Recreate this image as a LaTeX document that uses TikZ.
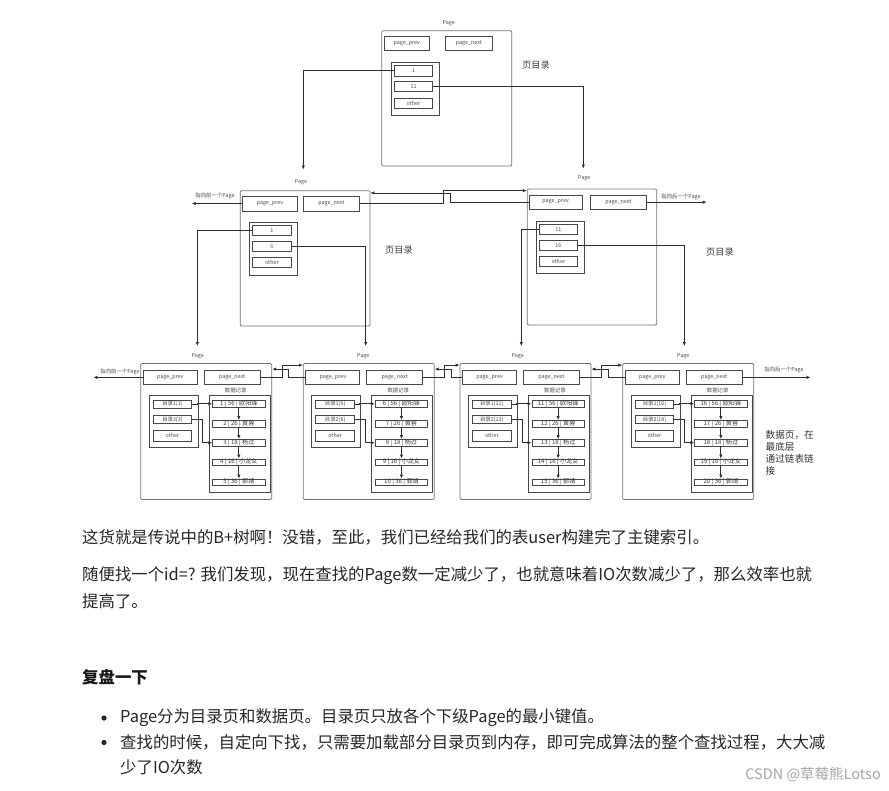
\documentclass[tikz,border=0pt]{standalone}
\usepackage{fontspec}
\setmainfont{Noto Sans CJK SC}
\usetikzlibrary{arrows.meta,calc}
\newcommand\mybox[7][]{\node[#1, minimum width={(#4)-(#2)}, minimum height={(#5)-(#3)}] (#6) at ({((#2)+(#4))/2},{((#3)+(#5))/2}) {#7};}
\newcommand\datapage[8]{%
  \mybox[pagebox]{#1}{363.5}{#1+131}{499.5}{#2-page}{}
  \node[lbl] (#2-lbl) at (#3,356) {Page};
  \mybox[cell]{#1+2.6}{370.3}{#1+56.6}{384.5}{#2-prev}{page\_prev}
  \mybox[cell]{#1+63.6}{370.3}{#1+119.3}{384.5}{#2-next}{page\_next}
  \mybox[grp]{#1+8.6}{395.2}{#1+57.6}{447.8}{#2-dir}{}
  \mybox[cell]{#1+12.6}{400.5}{#1+51}{408}{#2-d1}{目录1[#4]}
  \mybox[cell]{#1+12.6}{415.5}{#1+51}{423.5}{#2-d2}{目录2[#6]}
  \mybox[cell]{#1+12.6}{430.5}{#1+51}{441}{#2-d3}{other}
  \node[lbl] (#2-dl) at (#1+95,390.5) {数据记录};
  \mybox[grp]{#1+68.6}{395.2}{#1+129.3}{492.2}{#2-data}{}
  \mybox[rec]{#1+72}{400.5}{#1+124.3}{407}{#2-r1}{#4 | 56 | 欧阳锋}
  \mybox[rec]{#1+72}{420.5}{#1+124.3}{427}{#2-r2}{#5 | 26 | 黄蓉}
  \mybox[rec]{#1+72}{439.5}{#1+124.3}{446}{#2-r3}{#6 | 18 | 杨过}
  \mybox[rec]{#1+72}{459}{#1+124.3}{465.5}{#2-r4}{#7 | 16 | 小龙女}
  \mybox[rec]{#1+72}{479}{#1+124.3}{485.5}{#2-r5}{#8 | 36 | 郭靖}
  \draw[arr] (#2-d1.east) -- ++(5,0) |- (#2-r1.west);
  \draw[arr] (#2-d2.east) -- ++(10.5,0) |- (#2-r3.west);
  \draw[arr] (#2-r1.south) -- (#2-r2.north);
  \draw[arr] (#2-r2.south) -- (#2-r3.north);
  \draw[arr] (#2-r3.south) -- (#2-r4.north);
  \draw[arr] (#2-r4.south) -- (#2-r5.north);
}
\begin{document}
\begin{tikzpicture}[x=1pt,y=-1pt,
  pagebox/.style={draw=black!55, line width=0.8pt, rounded corners=1.2pt, inner sep=0pt},
  cell/.style={draw=black!72, line width=0.9pt, inner sep=0pt, font=\fontsize{5.4}{5.5}\selectfont, text=black!70},
  rec/.style={draw=black!72, line width=0.9pt, inner sep=0pt, text height=4.3pt, text depth=1pt, font=\fontsize{6.1}{6}\selectfont, text=black!78},
  grp/.style={draw=black!72, line width=0.9pt, inner sep=0pt},
  lbl/.style={inner sep=0.5pt, font=\fontsize{5.4}{5.5}\selectfont, text=black!70},
  big/.style={inner sep=0pt, font=\fontsize{9.2}{10}\selectfont, text=black!75},
  arr/.style={draw=black!82, line width=0.8pt, -{Latex[length=4pt,width=3.4pt]}},
  body/.style={inner sep=0pt, anchor=west, font=\fontsize{16.4}{18}\selectfont, text=black!85}]
\useasboundingbox (0,0) rectangle (889,790);
\fill[white] (0,0) rectangle (889,790);

% ---- top directory page
\mybox[pagebox]{381.7}{30.7}{511.7}{166}{t-page}{}
\node[lbl] (t-lbl) at (448.7,23.3) {Page};
\mybox[cell]{384.3}{36.7}{429.3}{50.7}{t-prev}{page\_prev}
\mybox[cell]{445}{36.7}{492.7}{50.7}{t-next}{page\_next}
\mybox[grp]{391}{62.7}{439}{115.3}{t-dir}{}
\mybox[cell]{394.3}{65}{432.7}{76}{t-d1}{1}
\mybox[cell]{394.3}{81.7}{432.7}{91.3}{t-d2}{11}
\mybox[cell]{394.3}{98}{432.7}{108.7}{t-d3}{other}
\node[big] (t-big) at (536,65) {页目录};

% ---- middle left directory page
\mybox[pagebox]{240.3}{190.7}{370}{326}{ml-page}{}
\node[lbl] (ml-lbl) at (301,181.7) {Page};
\mybox[cell]{242.7}{196}{297.3}{211}{ml-prev}{page\_prev}
\mybox[cell]{303.3}{196}{359.3}{211}{ml-next}{page\_next}
\mybox[grp]{249.3}{222.3}{297.3}{275.3}{ml-dir}{}
\mybox[cell]{252.7}{225}{291}{235.7}{ml-d1}{1}
\mybox[cell]{252.7}{241.3}{291}{251.3}{ml-d2}{6}
\mybox[cell]{252.7}{257.3}{291}{267.7}{ml-d3}{other}
\node[big] (ml-big) at (399,250) {页目录};
\node[lbl] (ml-side) at (215,196) {指向前一个Page};
\coordinate (ml-out) at (191.7,203.5);
\draw[arr] (ml-prev.west) -- (ml-out);

% ---- middle right directory page
\mybox[pagebox]{527.3}{189}{656.7}{325}{mr-page}{}
\node[lbl] (mr-lbl) at (584.3,178.3) {Page};
\mybox[cell]{529.3}{195}{582}{209.3}{mr-prev}{page\_prev}
\mybox[cell]{590}{195}{646.7}{209.3}{mr-next}{page\_next}
\mybox[grp]{536}{221.7}{584}{273.7}{mr-dir}{}
\mybox[cell]{539.3}{224.3}{577.3}{234.3}{mr-d1}{11}
\mybox[cell]{539.3}{240.7}{577.3}{250}{mr-d2}{16}
\mybox[cell]{539.3}{256.7}{577.3}{266.7}{mr-d3}{other}
\node[big] (mr-big) at (720,252) {页目录};
\node[lbl] (mr-side) at (681,196.5) {指向后一个Page};
\coordinate (mr-out) at (706.7,202.15);
\draw[arr] (mr-next.east) -- (mr-out);

% links between middle pages
\draw[arr] (ml-next.east) -- ($(ml-page.east |- ml-next.east)+(73.3,0)$) |- ($(mr-page.north west)+(0,2)$);
\draw[arr] (mr-prev.west) -- ($(ml-page.east |- mr-prev.west)+(79.5,0)$) |- ($(ml-page.north east)+(0,2.6)$);

% ---- bottom data pages
\datapage{140.7}{p1}{197.7}{1}{2}{3}{4}{5}
\datapage{303.3}{p2}{363.3}{6}{7}{8}{9}{10}
\datapage{460}{p3}{517.7}{11}{12}{13}{14}{15}
\datapage{622.7}{p4}{683.3}{16}{17}{18}{19}{20}

\node[lbl] (p1-side) at (120,372) {指向前一个Page};
\coordinate (p1-out) at (93.3,377.4);
\draw[arr] (p1-prev.west) -- (p1-out);
\node[lbl] (p4-side) at (784,369.5) {指向后一个Page};
\coordinate (p4-out) at (810.5,377.4);
\draw[arr] (p4-next.east) -- (p4-out);

\foreach \a/\b in {p1/p2,p2/p3,p3/p4}{
  \draw[arr] (\a-next.east) -- ($(\a-page.east |- \a-next.east)+(10,0)$) |- ($(\b-page.north west)+(0,2)$);
  \draw[arr] (\b-prev.west) -- ($(\a-page.east |- \b-prev.west)+(16.5,0)$) |- ($(\a-page.north east)+(0,6)$);
}

\node[inner sep=0pt, anchor=north west, align=left, font=\fontsize{9.6}{12.2}\selectfont, text=black!80] (p4-note) at (765.5,430) {数据页，在\\最底层\\通过链表链\\接};

% ---- tree connectors
\coordinate (ml-in) at (303.3,169.5);
\coordinate (mr-in) at (583.3,168.5);
\draw[arr] (t-d1.west) -| (ml-in);
\draw[arr] (t-d2.east) -| (mr-in);
\coordinate (p1-in) at (197.3,346);
\coordinate (p2-in) at (365.7,346);
\coordinate (p3-in) at (521.3,346);
\coordinate (p4-in) at (684.3,346);
\draw[arr] (ml-d1.west) -| (p1-in);
\draw[arr] (ml-d2.east) -| (p2-in);
\draw[arr] (mr-d1.west) -| (p3-in);
\draw[arr] (mr-d2.east) -| (p4-in);

% ---- text below
\node[body] (l1) at (82,537) {这货就是传说中的B+树啊！没错，至此，我们已经给我们的表user构建完了主键索引。};
\node[body] (l2) at (82,576) {随便找一个id=? 我们发现，现在查找的Page数一定减少了，也就意味着IO次数减少了，那么效率也就};
\node[body] (l3) at (82,601) {提高了。};
\node[body, font=\fontsize{16.4}{18}\selectfont\bfseries, text=black!90] (h1) at (82,677) {复盘一下};
\fill[black!85] (104,718) circle (2.6pt);
\fill[black!85] (104,742.5) circle (2.6pt);
\node[body] (b1) at (120,718) {Page分为目录页和数据页。目录页只放各个下级Page的最小键值。};
\node[body] (b2) at (120,742.5) {查找的时候，自定向下找，只需要加载部分目录页到内存，即可完成算法的整个查找过程，大大减};
\node[body] (b3) at (120,767) {少了IO次数};
\node[inner sep=0pt, anchor=east, font=\fontsize{14.5}{16}\selectfont, text=black!35] (wm) at (881,775) {CSDN @草莓熊Lotso};
\end{tikzpicture}
\end{document}
